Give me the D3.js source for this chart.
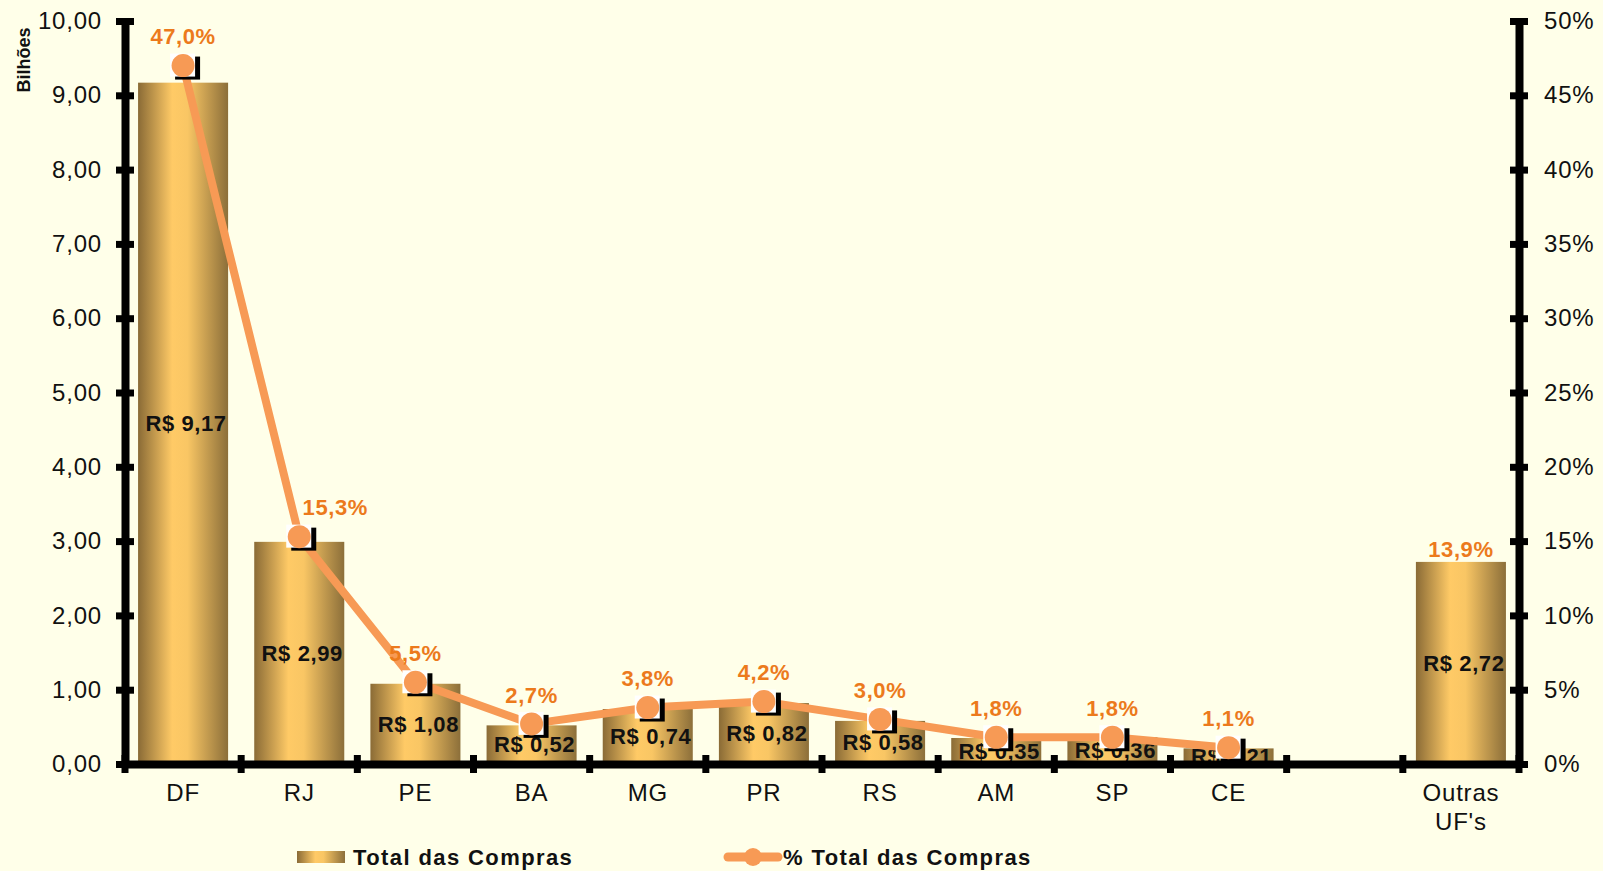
<!DOCTYPE html>
<html>
<head>
<meta charset="utf-8">
<script src="https://cdn.jsdelivr.net/npm/d3@7"></script>
<style>
  body { margin: 0; background: #ffffe9; }
  svg { display: block; font-family: "Liberation Sans", Arial, sans-serif; }
</style>
</head>
<body>
<div class="vis-chart"></div>
<script>
const categories = ["DF", "RJ", "PE", "BA", "MG", "PR", "RS", "AM", "SP", "CE", "", "Outras UF's"];
const totals = [9.17, 2.99, 1.08, 0.52, 0.74, 0.82, 0.58, 0.35, 0.36, 0.21, null, 2.72];
const percents = [47.0, 15.3, 5.5, 2.7, 3.8, 4.2, 3.0, 1.8, 1.8, 1.1, null, 13.9];
const lineCount = 10; // the line only runs through the individual states
const leftTicks = [0, 1, 2, 3, 4, 5, 6, 7, 8, 9, 10];
const rightTicks = [0, 5, 10, 15, 20, 25, 30, 35, 40, 45, 50];

const W = 1603, H = 871;
const margin = { top: 21, right: 84, bottom: 107, left: 125 };
const width = W - margin.left - margin.right;
const height = H - margin.top - margin.bottom;

const numFmt = d3.formatLocale({ decimal: ",", thousands: ".", grouping: [3], currency: ["R$ ", ""] });
const fmt2 = numFmt.format(".2f");
const fmt1 = numFmt.format(".1f");
const fmt0 = numFmt.format(".0f");

const orange = "#f79a55";

const svg = d3.select(".vis-chart").append("svg")
  .attr("width", W).attr("height", H);

svg.append("rect").attr("width", W).attr("height", H).attr("fill", "#ffffe9");

const defs = svg.append("defs");
const grad = defs.append("linearGradient").attr("id", "gold")
  .attr("x1", "0%").attr("x2", "100%").attr("y1", "0%").attr("y2", "0%");
[["0%", "#8a6b36"], ["38%", "#ffca66"], ["55%", "#f9c664"], ["100%", "#8c6f3a"]]
  .forEach(s => grad.append("stop").attr("offset", s[0]).attr("stop-color", s[1]));

const g = svg.append("g").attr("transform", `translate(${margin.left},${margin.top})`);

const x = d3.scaleBand().domain(d3.range(categories.length)).range([0, width])
  .paddingInner(0.225).paddingOuter(0.1125);
const y = d3.scaleLinear().domain([0, 10]).range([height, 0]);
const y2 = d3.scaleLinear().domain([0, 50]).range([height, 0]);

const rows = categories.map((c, i) => ({ i, cat: c, total: totals[i], pct: percents[i] }));

// bars
g.selectAll(".bar").data(rows.filter(d => d.total != null)).enter()
  .append("rect").attr("class", "bar")
  .attr("x", d => x(d.i)).attr("width", x.bandwidth())
  .attr("y", d => y(d.total)).attr("height", d => y(0) - y(d.total))
  .attr("fill", "url(#gold)");

// bar value labels
g.selectAll(".bar-text").data(rows.filter(d => d.total != null)).enter()
  .append("text").attr("class", "bar-text")
  .attr("x", d => x(d.i) + x.bandwidth() / 2 + 3)
  .attr("y", d => (y(d.total) + y(0)) / 2)
  .attr("dy", "0.35em")
  .attr("text-anchor", "middle")
  .attr("font-size", 22).attr("font-weight", "bold").attr("letter-spacing", 0.6)
  .attr("fill", "#111")
  .text(d => "R$ " + fmt2(d.total));

// axes
const axisStyle = (sel) => {
  sel.select(".domain").attr("stroke", "#000").attr("stroke-width", 8);
  sel.selectAll(".tick text").attr("fill", "#111").attr("font-size", 24).attr("letter-spacing", 0.8)
    .attr("font-family", "'Liberation Sans', Arial, sans-serif");
};

const yAxis = g.append("g").call(d3.axisLeft(y).tickValues(leftTicks).tickFormat(fmt2).tickSizeOuter(0).tickPadding(17));
axisStyle(yAxis);
yAxis.selectAll(".tick line").attr("x1", -9).attr("x2", 9).attr("stroke", "#000").attr("stroke-width", 7);

const y2Axis = g.append("g").attr("transform", `translate(${width},0)`)
  .call(d3.axisRight(y2).tickValues(rightTicks).tickFormat(d => fmt0(d) + "%").tickSizeOuter(0).tickPadding(19));
axisStyle(y2Axis);
y2Axis.selectAll(".tick line").attr("x1", -9).attr("x2", 9).attr("stroke", "#000").attr("stroke-width", 7);

const xAxis = g.append("g").attr("transform", `translate(0,${height})`)
  .call(d3.axisBottom(x).tickSize(0).tickSizeOuter(0).tickPadding(20).tickFormat(i => categories[i]));
axisStyle(xAxis);
xAxis.selectAll(".tick text").each(function (i) {
  const parts = categories[i].split(" ");
  if (parts.length > 1) {
    const t = d3.select(this).text(null);
    parts.forEach((p, k) => t.append("tspan").attr("x", 0).attr("dy", k === 0 ? "0.71em" : "1.2em").text(p));
  }
});
// boundary ticks on the category axis
xAxis.selectAll(".bound").data(d3.range(categories.length + 1)).enter()
  .append("line").attr("class", "bound")
  .attr("x1", k => x.step() * k).attr("x2", k => x.step() * k)
  .attr("y1", -9).attr("y2", 9)
  .attr("stroke", "#000").attr("stroke-width", 7);

// axis title
svg.append("text")
  .attr("transform", `translate(30,60) rotate(-90)`)
  .attr("text-anchor", "middle")
  .attr("font-size", 18).attr("font-weight", "bold").attr("fill", "#111")
  .text("Bilhões");

// percentage line
const lineRows = rows.slice(0, lineCount);
const cx = d => x(d.i) + x.bandwidth() / 2;
const line = d3.line().x(cx).y(d => y2(d.pct));
g.append("path").datum(lineRows)
  .attr("d", line).attr("fill", "none")
  .attr("stroke", orange).attr("stroke-width", 8)
  .attr("stroke-linejoin", "round").attr("stroke-linecap", "round");

// markers (with the boxy shadow of the original)
const dots = g.selectAll(".dot").data(lineRows).enter().append("g").attr("class", "dot")
  .attr("transform", d => `translate(${cx(d)},${y2(d.pct)})`);
dots.append("rect").attr("x", -8).attr("y", -9).attr("width", 25).attr("height", 23).attr("fill", "#000");
dots.append("rect").attr("x", -13).attr("y", -12).attr("width", 25).attr("height", 23).attr("fill", "#fff");
dots.append("circle").attr("r", 11.5).attr("fill", orange);

// percentage labels (RJ's label sits to the right, clear of the steep line)
g.selectAll(".pct-text").data(rows.filter(d => d.pct != null)).enter()
  .append("text").attr("class", "pct-text")
  .attr("x", d => cx(d) + (d.i === 1 ? 36 : 0))
  .attr("y", d => d.i < lineCount ? y2(d.pct) - 29 : y(d.total) - 13)
  .attr("dy", "0.35em")
  .attr("text-anchor", "middle")
  .attr("font-size", 22).attr("font-weight", "bold").attr("letter-spacing", 0.6)
  .attr("fill", "#ec7a1c")
  .text(d => fmt1(d.pct) + "%");

// legend
const legend = svg.append("g").attr("transform", `translate(0,${H - 14})`);
legend.append("rect").attr("x", 297).attr("y", -6).attr("width", 48).attr("height", 12).attr("fill", "url(#gold)");
legend.append("text").attr("x", 353).attr("y", 0).attr("dy", "0.35em")
  .attr("font-size", 22).attr("font-weight", "bold").attr("letter-spacing", 1.4).attr("fill", "#111")
  .text("Total das Compras");
legend.append("line").attr("x1", 728).attr("x2", 778).attr("y1", 0).attr("y2", 0)
  .attr("stroke", orange).attr("stroke-width", 9).attr("stroke-linecap", "round");
legend.append("circle").attr("cx", 753).attr("cy", 0).attr("r", 9).attr("fill", orange);
legend.append("text").attr("x", 783).attr("y", 0).attr("dy", "0.35em")
  .attr("font-size", 22).attr("font-weight", "bold").attr("letter-spacing", 1.4).attr("fill", "#111")
  .text("% Total das Compras");
</script>
</body>
</html>
